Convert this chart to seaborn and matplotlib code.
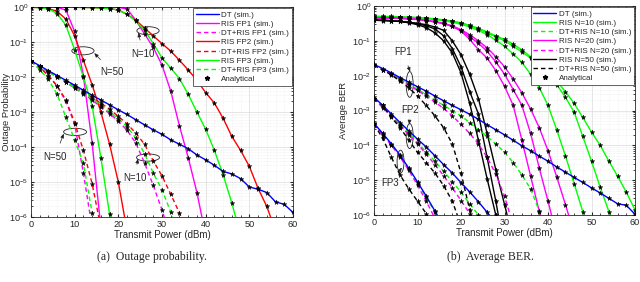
import numpy as np
import matplotlib.pyplot as plt
import seaborn as sns
from matplotlib.lines import Line2D
from matplotlib.patches import Ellipse
from matplotlib.transforms import ScaledTranslation
from matplotlib.ticker import LogLocator, NullFormatter, FixedLocator

sns.set_style('ticks')
plt.rcParams['font.family'] = ['Liberation Sans', 'DejaVu Sans']
plt.rcParams['mathtext.default'] = 'regular'

# transmit power grid (dBm), every curve is sampled on it from 0 dBm
p_db = np.arange(0, 61, 2)

# ---- (a) outage probability ----
op_dt = [2.9e-2, 2.1e-2, 1.5e-2, 1.1e-2, 8.0e-3, 5.8e-3, 4.2e-3, 3.0e-3, 2.2e-3, 1.6e-3, 1.15e-3,
         8.5e-4, 6.0e-4, 4.3e-4, 3.1e-4, 2.3e-4, 1.6e-4, 1.2e-4, 9.0e-5, 5.9e-5, 4.3e-5,
         3.0e-5, 2.0e-5, 1.7e-5, 1.25e-5, 7.2e-6, 6.2e-6, 5.0e-6, 2.7e-6, 2.3e-6, 1.35e-6]
op_ris_fp1_n10 = [0.995, 0.995, 0.995, 0.995, 0.995, 0.995, 0.995, 0.994, 0.99, 0.985, 0.97,
                  0.88, 0.42, 0.17, 7e-2, 2.2e-2, 4e-3, 4e-4, 5e-5, 5e-6, 3e-7]
op_ris_fp2_n10 = [0.99, 0.99, 0.99, 0.99, 0.98, 0.98, 0.97, 0.96, 0.94, 0.9, 0.82, 0.62, 0.42,
                  0.25, 0.15, 9e-2, 5.5e-2, 3e-2, 1.6e-2, 8e-3, 3.6e-3, 1.8e-3, 6.6e-4, 2e-4,
                  8e-5, 2.8e-5, 6.6e-6, 2e-6, 4e-7]
op_ris_fp3_n10 = [0.99, 0.99, 0.99, 0.99, 0.98, 0.98, 0.97, 0.96, 0.94, 0.9, 0.82, 0.62, 0.4,
                  0.22, 9e-2, 3.5e-2, 1.8e-2, 9e-3, 3.2e-3, 1e-3, 3.2e-4, 8e-5, 1.6e-5, 2.5e-6, 3e-7]
op_dtris_fp1_n10 = [2.8e-2, 2.0e-2, 1.4e-2, 1.0e-2, 7.0e-3, 4.8e-3, 3.3e-3, 2.2e-3, 1.4e-3, 9e-4,
                    5.5e-4, 3e-4, 1.3e-4, 3.5e-5, 8e-6, 1.6e-6, 2.5e-7]
op_dtris_fp2_n10 = [2.8e-2, 2.0e-2, 1.45e-2, 1.05e-2, 7.4e-3, 5.2e-3, 3.7e-3, 2.6e-3, 1.8e-3,
                    1.2e-3, 7.5e-4, 4.6e-4, 2.5e-4, 1.2e-4, 4e-5, 1.5e-5, 4.5e-6, 1.3e-6, 3e-7]
op_dtris_fp3_n10 = [2.8e-2, 2.0e-2, 1.4e-2, 1.0e-2, 7.2e-3, 5.0e-3, 3.5e-3, 2.4e-3, 1.6e-3,
                    1.0e-3, 6.5e-4, 3.8e-4, 1.8e-4, 6.5e-5, 1.8e-5, 6e-6, 1.4e-6, 2e-7]
op_ris_fp1_n50 = [0.99, 0.99, 0.99, 0.98, 0.82, 0.2, 1.1e-2, 1.3e-4, 5e-7]
op_ris_fp2_n50 = [0.98, 0.96, 0.9, 0.75, 0.45, 0.15, 3e-2, 6e-3, 1e-3, 1.2e-4, 1e-5, 4e-7]
op_ris_fp3_n50 = [0.98, 0.96, 0.88, 0.65, 0.3, 6e-2, 1e-2, 1.5e-3, 5e-5, 1.2e-6, 2e-8]
op_dtris_fp1_n50 = [2.8e-2, 1.9e-2, 1.1e-2, 5.5e-3, 2e-3, 4.5e-4, 1.8e-5, 5e-7]
op_dtris_fp2_n50 = [2.8e-2, 1.9e-2, 1.1e-2, 5.5e-3, 2.2e-3, 5e-4, 8e-5, 9e-6, 5e-7]
op_dtris_fp3_n50 = [2.8e-2, 1.6e-2, 8.5e-3, 3.2e-3, 7e-4, 1.6e-4, 3.4e-5, 1.3e-6, 2e-8]

# ---- (b) average BER ----
ber_dt_fp1 = [2.1e-2, 1.6e-2, 1.2e-2, 8.8e-3, 6.5e-3, 4.8e-3, 3.6e-3, 2.6e-3, 1.9e-3, 1.4e-3,
              1.05e-3, 7.8e-4, 5.6e-4, 3.9e-4, 2.8e-4, 2.0e-4, 1.4e-4, 9.7e-5, 7.0e-5, 4.9e-5,
              3.5e-5, 2.4e-5, 1.7e-5, 1.2e-5, 8.6e-6, 6.0e-6, 4.3e-6, 3.0e-6, 2.1e-6, 1.9e-6, 1.05e-6]
ber_dt_fp2 = [2.4e-3, 1.4e-3, 7.9e-4, 4.5e-4, 2.6e-4, 1.5e-4, 9e-5, 5e-5, 2.8e-5, 1.6e-5, 8.5e-6,
              4.6e-6, 2.4e-6, 1.2e-6, 6e-7]
ber_dt_fp3 = [4.3e-4, 2.2e-4, 1.1e-4, 5.2e-5, 2.2e-5, 8.9e-6, 3.5e-6, 1.3e-6, 5e-7]
ber_dtris_fp1_n10 = [2.0e-2, 1.5e-2, 1.1e-2, 8e-3, 5.8e-3, 4.0e-3, 2.9e-3, 2.0e-3, 1.4e-3, 1.0e-3,
                     7e-4, 4.5e-4, 2.8e-4, 1.8e-4, 1.1e-4, 6.3e-5, 3.2e-5, 1.4e-5, 5.6e-6, 1.3e-6, 2.5e-7]
ber_dtris_fp1_n20 = [2.0e-2, 1.5e-2, 1.1e-2, 7.5e-3, 5.3e-3, 3.8e-3, 2.6e-3, 1.75e-3, 1.15e-3, 7e-4,
                     4e-4, 2.2e-4, 1.1e-4, 4.5e-5, 1.5e-5, 3.5e-6, 5e-7]
ber_dtris_fp1_n50 = [2.0e-2, 1.45e-2, 1.05e-2, 7e-3, 4.5e-3, 2.6e-3, 1.4e-3, 7e-4, 3.2e-4, 1.1e-4,
                     1.6e-5, 1.4e-6, 5e-8]
ber_dtris_fp2_n10 = [2.2e-3, 1.25e-3, 7e-4, 3.9e-4, 2.2e-4, 1.2e-4, 6.5e-5, 3.5e-5, 1.8e-5, 9e-6,
                     4.5e-6, 2.1e-6, 1e-6, 4e-7]
ber_dtris_fp2_n20 = [2.2e-3, 1.2e-3, 6.8e-4, 3.7e-4, 2e-4, 1.1e-4, 5.6e-5, 2.8e-5, 1.35e-5, 6e-6,
                     2.6e-6, 1.1e-6, 4e-7]
ber_dtris_fp2_n50 = [2.2e-3, 1.4e-3, 6.3e-4, 3.2e-4, 1.4e-4, 6.3e-5, 3.2e-5, 1.6e-5, 7e-6, 2.5e-6, 5e-7]
ber_dtris_fp3_n10 = [4.2e-4, 2.1e-4, 1.05e-4, 5e-5, 2.1e-5, 8.3e-6, 3.2e-6, 1.2e-6, 4e-7]
ber_dtris_fp3_n20 = [4.2e-4, 2e-4, 1e-4, 4.6e-5, 1.9e-5, 7.2e-6, 2.5e-6, 8e-7]
ber_dtris_fp3_n50 = [4e-4, 1.6e-4, 4.5e-5, 1.4e-5, 5.6e-6, 2.5e-6, 1.1e-6, 5e-7]
ber_ris_n10 = [
    [0.49, 0.48, 0.48, 0.47, 0.46, 0.45, 0.43, 0.41, 0.38, 0.34, 0.3, 0.25, 0.2, 0.15, 0.105, 7e-2,
     4.2e-2, 2.4e-2, 1.1e-2, 4.5e-3, 1.4e-3, 2.8e-4, 5e-5, 8e-6, 1.25e-6, 2e-7],
    [0.5, 0.49, 0.49, 0.48, 0.47, 0.46, 0.44, 0.42, 0.39, 0.36, 0.32, 0.27, 0.22, 0.17, 0.13, 0.1,
     7e-2, 4.8e-2, 3.2e-2, 1.9e-2, 1.1e-2, 5.5e-3, 2.4e-3, 9e-4, 1.8e-4, 3.5e-5, 6.3e-6, 1.25e-6, 2.5e-7],
    [0.51, 0.5, 0.5, 0.49, 0.48, 0.47, 0.45, 0.43, 0.4, 0.37, 0.33, 0.28, 0.23, 0.18, 0.14, 0.11,
     8e-2, 5.5e-2, 3.5e-2, 2.2e-2, 1.3e-2, 7e-3, 3.5e-3, 1.6e-3, 6.3e-4, 2.4e-4, 1e-4, 3.5e-5,
     1.3e-5, 4.5e-6, 1.4e-6],
]
ber_ris_n20 = [
    [0.46, 0.45, 0.45, 0.44, 0.43, 0.41, 0.38, 0.35, 0.31, 0.26, 0.19, 0.11, 5.6e-2, 3.2e-2, 1.4e-2,
     5e-3, 1.4e-3, 1.4e-4, 1.3e-5, 1.25e-6, 1e-7],
    [0.46, 0.45, 0.45, 0.44, 0.43, 0.41, 0.38, 0.35, 0.31, 0.26, 0.2, 0.13, 8.5e-2, 5e-2, 2.5e-2,
     1.1e-2, 4e-3, 1.4e-3, 2.2e-4, 2.2e-5, 2.5e-6, 2.5e-7],
    [0.46, 0.45, 0.45, 0.44, 0.43, 0.42, 0.39, 0.36, 0.32, 0.27, 0.21, 0.15, 0.1, 6.3e-2, 3.5e-2,
     1.8e-2, 8e-3, 3.2e-3, 1.1e-3, 3.2e-4, 7e-5, 1.25e-5, 2e-6, 3e-7],
]
ber_ris_n50 = [
    [0.4, 0.39, 0.38, 0.36, 0.33, 0.29, 0.24, 0.17, 0.1, 4.5e-2, 1.2e-2, 1.6e-3, 1.4e-4, 1.1e-5, 1e-6, 6e-8],
    [0.4, 0.39, 0.38, 0.36, 0.34, 0.31, 0.27, 0.22, 0.14, 6e-2, 1.8e-2, 3.5e-3, 8e-4, 4.5e-5, 2.5e-6, 1e-7],
    [0.39, 0.38, 0.37, 0.36, 0.34, 0.32, 0.29, 0.25, 0.2, 0.1, 4e-2, 1.1e-2, 2.2e-3, 2.2e-4, 2e-5, 2e-6, 2e-7],
]

BLUE, MAG, RED, GRN, BLK = '#0000ff', '#ff00ff', '#ff0000', '#00ff00', '#000000'
DASH = (0, (3.2, 2.2))


def draw(ax, y, color, ls='-'):
    x = p_db[:len(y)]
    sns.lineplot(x=x, y=y, ax=ax, color=color, linestyle=ls, linewidth=1.0)
    sns.scatterplot(x=x, y=y, ax=ax, color='black', marker='*', s=12, linewidth=0.3,
                    edgecolor='black', zorder=4)


def ring(ax, x, y, w, h):
    tr = fig.dpi_scale_trans + ScaledTranslation(x, y, ax.transData)
    ax.add_patch(Ellipse((0, 0), w / 72, h / 72, transform=tr, fill=False, ec='#202020', lw=0.6))


def note(ax, text, xy, xytext):
    ax.annotate(text, xy=xy, xytext=xytext, fontsize=7, ha='center', va='center',
                arrowprops=dict(arrowstyle='-|>,head_length=0.35,head_width=0.15', lw=0.5,
                                color='#202020', shrinkA=4, shrinkB=0))


def style(ax, ylabel, label_x):
    ax.set_yscale('log')
    ax.set_xlim(0, 60)
    ax.set_ylim(1e-6, 1)
    ax.xaxis.set_major_locator(FixedLocator(np.arange(0, 61, 10)))
    ax.xaxis.set_minor_locator(FixedLocator(np.arange(0, 61, 2)))
    ax.yaxis.set_major_locator(LogLocator(base=10, numticks=10))
    ax.yaxis.set_minor_locator(LogLocator(base=10, subs=np.arange(2, 10), numticks=20))
    ax.yaxis.set_minor_formatter(NullFormatter())
    ax.grid(which='major', color='#dcdcdc', lw=0.5)
    ax.grid(which='minor', color='#e4e4e4', lw=0.4, ls=':')
    ax.tick_params(which='both', direction='in', top=True, right=True, labelsize=6.6,
                   colors='#262626', pad=2)
    ax.tick_params(which='major', length=2.5)
    ax.tick_params(which='minor', length=1.2)
    for s in ax.spines.values():
        s.set_color('#262626')
        s.set_linewidth(0.6)
    ax.set_xlabel('Transmit Power (dBm)', fontsize=7, labelpad=1, color='#262626')
    ax.set_ylabel(ylabel, fontsize=6.8, color='#262626')
    ax.yaxis.set_label_coords(label_x, 0.5)


def leg(ax, labels, styles):
    hs = [Line2D([], [], color=c, ls=ls, lw=1.0) for c, ls in styles]
    hs.append(Line2D([], [], color='black', marker='*', ls='none', ms=3.5))
    lg = ax.legend(hs, labels + ['Analytical'], loc='upper right', fontsize=5.8,
                   bbox_to_anchor=(0.995, 0.993), borderaxespad=0, handlelength=2.9,
                   labelspacing=0.2, borderpad=0.3, handletextpad=0.3, fancybox=False,
                   framealpha=1, edgecolor='#262626')
    lg.get_frame().set_linewidth(0.5)
    lg.set_zorder(10)


fig = plt.figure(figsize=(6.4, 2.82), dpi=100)
ax1 = fig.add_axes([0.0484, 0.2305, 0.4094, 0.7447])
ax2 = fig.add_axes([0.5844, 0.2376, 0.4078, 0.7411])

# (a)
for y, c in [(op_ris_fp1_n10, MAG), (op_ris_fp2_n10, RED), (op_ris_fp3_n10, GRN),
             (op_ris_fp1_n50, MAG), (op_ris_fp2_n50, RED), (op_ris_fp3_n50, GRN)]:
    draw(ax1, y, c)
for y, c in [(op_dtris_fp1_n10, MAG), (op_dtris_fp2_n10, RED), (op_dtris_fp3_n10, GRN),
             (op_dtris_fp1_n50, MAG), (op_dtris_fp2_n50, RED), (op_dtris_fp3_n50, GRN)]:
    draw(ax1, y, c, DASH)
draw(ax1, op_dt, BLUE)
style(ax1, 'Outage Probability', -0.078)
leg(ax1, ['DT (sim.)', 'RIS FP1 (sim.)', 'DT+RIS FP1 (sim.)', 'RIS FP2 (sim.)',
          'DT+RIS FP2 (sim.)', 'RIS FP3 (sim.)', 'DT+RIS FP3 (sim.)'],
    [(BLUE, '-'), (MAG, '-'), (MAG, DASH), (RED, '-'), (RED, DASH), (GRN, '-'), (GRN, DASH)])
ring(ax1, 26.8, 0.21, 16, 5.8)
note(ax1, 'N=10', (24.6, 0.185), (25.7, 0.046))
ring(ax1, 11.9, 0.056, 16, 5.8)
note(ax1, 'N=50', (14.5, 0.048), (18.6, 0.014))
ring(ax1, 10.1, 2.7e-4, 16.5, 5.2)
note(ax1, 'N=50', (7.5, 2.4e-4), (5.5, 5.3e-5))
ring(ax1, 26.8, 5e-5, 16.5, 5.2)
note(ax1, 'N=10', (24.5, 4.6e-5), (23.7, 1.3e-5))

# (b)
for ys, c in [(ber_ris_n10, GRN), (ber_ris_n20, MAG), (ber_ris_n50, BLK)]:
    for y in ys:
        draw(ax2, y, c)
for fp in [(ber_dtris_fp1_n10, ber_dtris_fp1_n20, ber_dtris_fp1_n50),
           (ber_dtris_fp2_n10, ber_dtris_fp2_n20, ber_dtris_fp2_n50),
           (ber_dtris_fp3_n10, ber_dtris_fp3_n20, ber_dtris_fp3_n50)]:
    for y, c in zip(fp, [GRN, MAG, BLK]):
        draw(ax2, y, c, DASH)
for y in [ber_dt_fp1, ber_dt_fp2, ber_dt_fp3]:
    draw(ax2, y, BLUE)
style(ax2, 'Average BER', -0.1)
leg(ax2, ['DT (sim.)', 'RIS N=10 (sim.)', 'DT+RIS N=10 (sim.)', 'RIS N=20 (sim.)',
          'DT+RIS N=20 (sim.)', 'RIS N=50 (sim.)', 'DT+RIS N=50 (sim.)'],
    [(BLUE, '-'), (GRN, '-'), (GRN, DASH), (MAG, '-'), (MAG, DASH), (BLK, '-'), (BLK, DASH)])
ring(ax2, 8.2, 5.6e-3, 5, 18.5)
note(ax2, 'FP1', (8.3, 1.3e-2), (6.7, 4.7e-2))
ring(ax2, 8.2, 1.85e-4, 5, 18)
note(ax2, 'FP2', (8.1, 4e-4), (8.3, 1.02e-3))
ring(ax2, 6.1, 3.4e-5, 5, 16.5)
note(ax2, 'FP3', (6.4, 2.3e-5), (3.8, 8.1e-6))

fig.text(0.2375, 0.088, '(a)  Outage probability.', ha='center', va='center',
         fontsize=8.5, family='Liberation Serif')
fig.text(0.767, 0.088, '(b)  Average BER.', ha='center', va='center',
         fontsize=8.5, family='Liberation Serif')

fig.savefig('out.png', dpi=100)
